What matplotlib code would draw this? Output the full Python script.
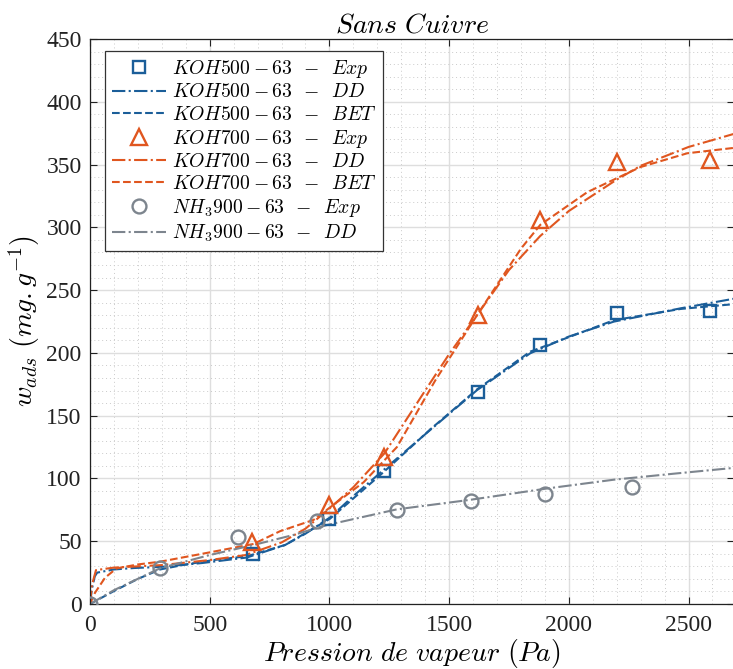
import matplotlib
matplotlib.use("Agg")
import matplotlib.pyplot as plt
from matplotlib.ticker import MultipleLocator

plt.rcParams['font.family'] = 'serif'
plt.rcParams['font.serif'] = ['Liberation Serif', 'DejaVu Serif']
plt.rcParams['mathtext.fontset'] = 'cm'

# ---- Experimental data ----
koh500_exp_x = [680, 1000, 1230, 1620, 1880, 2200, 2590]
koh500_exp_y = [40, 68, 106, 169, 206, 232, 233]
koh700_exp_x = [675, 1000, 1230, 1620, 1880, 2200, 2590]
koh700_exp_y = [49, 79, 117, 230, 306, 352, 354]
nh3_exp_x = [0, 293, 619, 949, 1283, 1593, 1902, 2262]
nh3_exp_y = [0, 29, 53, 66, 75, 82, 88, 93]

# ---- Model curves ----
koh500_dd_x = [0, 8, 20, 30, 100, 188, 293, 467, 655, 815, 900, 1003, 1100, 1226,
               1421, 1617, 1839, 2000, 2188, 2467, 2700]
koh500_dd_y = [0, 12, 22, 25, 27.5, 28.7, 29.5, 32.6, 37, 47, 56, 69, 86, 106.7,
               138.6, 170.4, 199.7, 213, 224.9, 235.5, 243.5]
koh500_bet_x = [0, 97, 200, 293, 400, 516, 655, 815, 1003, 1226, 1421, 1617, 1839,
                2188, 2467, 2700]
koh500_bet_y = [0, 10, 20, 27.5, 31.5, 35, 38, 47, 68, 105, 139, 171, 201,
                226, 235, 239]
koh700_dd_x = [0, 8, 25, 100, 300, 500, 650, 800, 900, 1000, 1100, 1230, 1400,
               1500, 1620, 1750, 1880, 2000, 2200, 2300, 2500, 2700]
koh700_dd_y = [0, 15, 27, 29, 31, 35, 39, 49, 60, 76, 93, 120, 170,
               199, 231, 266, 293, 313, 338, 349, 364, 375]
koh700_bet_x = [0, 21, 63, 111, 200, 293, 516, 683, 794, 934, 1017, 1143, 1282,
                1442, 1620, 1800, 1881, 2077, 2299, 2495, 2700]
koh700_bet_y = [0, 9, 21, 28.4, 31.5, 33.7, 41.7, 47.8, 58, 67, 79, 97, 125,
                178, 231, 283, 302, 328, 348, 359, 363.5]
nh3_dd_x = [0, 100, 293, 500, 683, 850, 990, 1282, 1589, 1909, 2188, 2450, 2700]
nh3_dd_y = [0, 11, 28.5, 39, 47, 55, 62.9, 75.4, 83, 92, 99, 104, 108.6]

x_ticks = [0, 500, 1000, 1500, 2000, 2500]
y_ticks = [0, 50, 100, 150, 200, 250, 300, 350, 400, 450]

blue = '#1b5e99'
orange = '#e0561f'
gray = '#7d858e'

W, H = 733, 669
fig = plt.figure(figsize=(W / 100, H / 100), dpi=100)
ax = fig.add_axes([90 / W, (H - 604) / H, (734 - 90) / W, (604 - 39) / H])

lw = 1.5
ax.plot(koh500_exp_x, koh500_exp_y, 's', ms=8.5, mfc='none', mec=blue, mew=1.7,
        label=r'$KOH500-63\ \,-\ \,Exp$', zorder=5)
ax.plot(koh500_dd_x, koh500_dd_y, '-.', color=blue, lw=lw,
        label=r'$KOH500-63\ \,-\ \,DD$')
ax.plot(koh500_bet_x, koh500_bet_y, '--', color=blue, lw=lw,
        label=r'$KOH500-63\ \,-\ \,BET$')
ax.plot(koh700_exp_x, koh700_exp_y, '^', ms=11.5, mfc='none', mec=orange, mew=1.7,
        label=r'$KOH700-63\ \,-\ \,Exp$', zorder=5)
ax.plot(koh700_dd_x, koh700_dd_y, '-.', color=orange, lw=lw,
        label=r'$KOH700-63\ \,-\ \,DD$')
ax.plot(koh700_bet_x, koh700_bet_y, '--', color=orange, lw=lw,
        label=r'$KOH700-63\ \,-\ \,BET$')
ax.plot(nh3_exp_x, nh3_exp_y, 'o', ms=10, mfc='none', mec=gray, mew=1.7,
        label=r'$NH_3900-63\ \,-\ \,Exp$', zorder=5)
ax.plot(nh3_dd_x, nh3_dd_y, '-.', color=gray, lw=lw,
        label=r'$NH_3900-63\ \,-\ \,DD$')

ax.set_xlim(0, 2690)
ax.set_ylim(0, 450)
ax.set_xticks(x_ticks)
ax.set_yticks(y_ticks)
ax.xaxis.set_minor_locator(MultipleLocator(100))
ax.yaxis.set_minor_locator(MultipleLocator(10))
ax.grid(which='major', color='#dedede', lw=1.0, ls='-')
ax.grid(which='minor', color='#cacaca', lw=0.7, ls=(0, (1, 3)))
ax.set_axisbelow(True)
ax.tick_params(which='major', direction='in', length=5, width=0.8,
               top=True, right=True, labelsize=17, colors='#222222')
ax.tick_params(axis='x', which='major', pad=8)
ax.tick_params(axis='y', which='major', pad=6)
ax.tick_params(which='minor', length=0, top=True, right=True)
for s in ax.spines.values():
    s.set_color('#222222')
    s.set_linewidth(0.9)

ax.set_xlabel(r'$Pression\ de\ vapeur\ (Pa)$', fontsize=20, labelpad=1)
ax.set_ylabel(r'$w_{ads}\ (mg.g^{-1})$', fontsize=20, labelpad=3)
ax.set_title(r'$Sans\ Cuivre$', fontsize=20, pad=5)

leg = ax.legend(loc='upper left', fontsize=14.2, handlelength=2.75,
                labelspacing=0.16, borderpad=0.35, handletextpad=0.3,
                fancybox=False, framealpha=1, edgecolor='#333333',
                bbox_to_anchor=(0.023, 0.978), borderaxespad=0)
leg.get_frame().set_linewidth(0.9)

fig.savefig('out.png', dpi=100)
